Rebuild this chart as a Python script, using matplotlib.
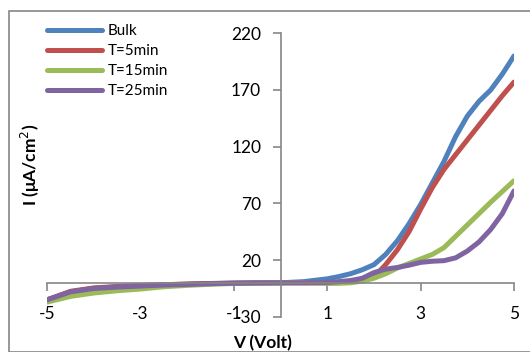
import numpy as np
import matplotlib.pyplot as plt
import matplotlib.patches as mpatches

# I-V data (V in volt, I in uA/cm2)
v_neg = [-5, -4.5, -4, -3.5, -3, -2.5, -2, -1.5, -1, -0.5, 0, 0.5, 1]
v_pos = [1.25, 1.5, 1.75, 2, 2.25, 2.5, 2.75, 3, 3.25, 3.5, 3.75, 4, 4.25, 4.5, 4.75, 5]
volt = v_neg + v_pos

bulk = [-15, -8, -5, -3.5, -2.5, -1.8, -1.2, -0.7, -0.4, -0.1, 0, 1, 3.5,
        5.5, 8, 11.5, 16, 25, 37, 52, 69, 88, 107, 129, 147, 160, 170, 184, 200]
t5 = [-15, -7.5, -4.5, -3.3, -2.4, -1.7, -1.1, -0.6, -0.3, -0.1, 0, 0, 0,
      0.3, 1, 2.5, 5, 16, 29, 45, 65, 84, 100, 113, 126, 139, 152, 165, 177]
t15 = [-17, -12, -9, -7, -5.5, -3.5, -2.3, -1.3, -0.6, -0.2, 0, 0, -0.5,
       -0.5, 0, 1.5, 4, 8, 13, 17, 21, 25, 31, 41, 51, 61, 71, 80.5, 90]
t25 = [-15, -8, -5, -3.8, -2.9, -2, -1.5, -0.8, -0.4, -0.1, 0, 0, 0.3,
       1, 2, 4, 9, 12, 13.5, 15.5, 18, 19, 19.5, 22, 28, 36, 47, 61, 81]

labels = ["Bulk", "T=5min", "T=15min", "T=25min"]
colors = ["#4F81BD", "#C0504D", "#9BBB59", "#8064A2"]
xticks = [-5, -3, -1, 1, 3, 5]
yticks = [-30, 20, 70, 120, 170, 220]

plt.rcParams['font.family'] = ['Lato', 'DejaVu Sans']
plt.rcParams['axes.unicode_minus'] = False
axcol = '#868686'

fig = plt.figure(figsize=(5.3, 3.52), dpi=100)
ax = fig.add_axes([47.3/530, 1-316.8/352, (514-47.3)/530, (316.8-33.3)/352])

# outer chart border
fig.patches.append(mpatches.Rectangle((9/530, 0), 1.0, 1-11/352, transform=fig.transFigure,
                                      fill=False, edgecolor=axcol, lw=1.2))

for y, lab, c in zip([bulk, t5, t15, t25], labels, colors):
    ax.plot(volt, y, color=c, lw=3.6, solid_capstyle='round', solid_joinstyle='round', label=lab)

ax.set_xlim(-5, 5)
ax.set_ylim(-30, 220)
ax.set_xticks(xticks)
ax.set_yticks(yticks)
ax.spines['left'].set_position(('data', 0))
ax.spines['bottom'].set_position(('data', 0))
ax.spines['top'].set_visible(False)
ax.spines['right'].set_visible(False)
for s in ['left', 'bottom']:
    ax.spines[s].set_color(axcol)
    ax.spines[s].set_linewidth(1.2)
ax.tick_params(axis='both', colors=axcol, labelcolor='black', length=6, width=1.2,
               labelsize=12.5, direction='out')
ax.tick_params(axis='y', pad=8)
ax.tick_params(axis='x', pad=11)
ax.patch.set_alpha(0)

fig.text(263/530, 1-343/352, "V (Volt)", ha='center', va='center', fontsize=12.5, fontweight='bold')
fig.text(30/530, 1-165/352, "I (\u03bcA/cm$^2$)", ha='center', va='center', rotation=90,
         fontsize=12.5, fontweight='bold')

leg = ax.legend(loc='upper left', bbox_to_anchor=(47/530, 1-24/352), bbox_transform=fig.transFigure,
                frameon=False, fontsize=11, handlelength=3.6, handletextpad=0.35,
                labelspacing=0.4, borderaxespad=0, borderpad=0)

fig.savefig("out.png", dpi=100)
